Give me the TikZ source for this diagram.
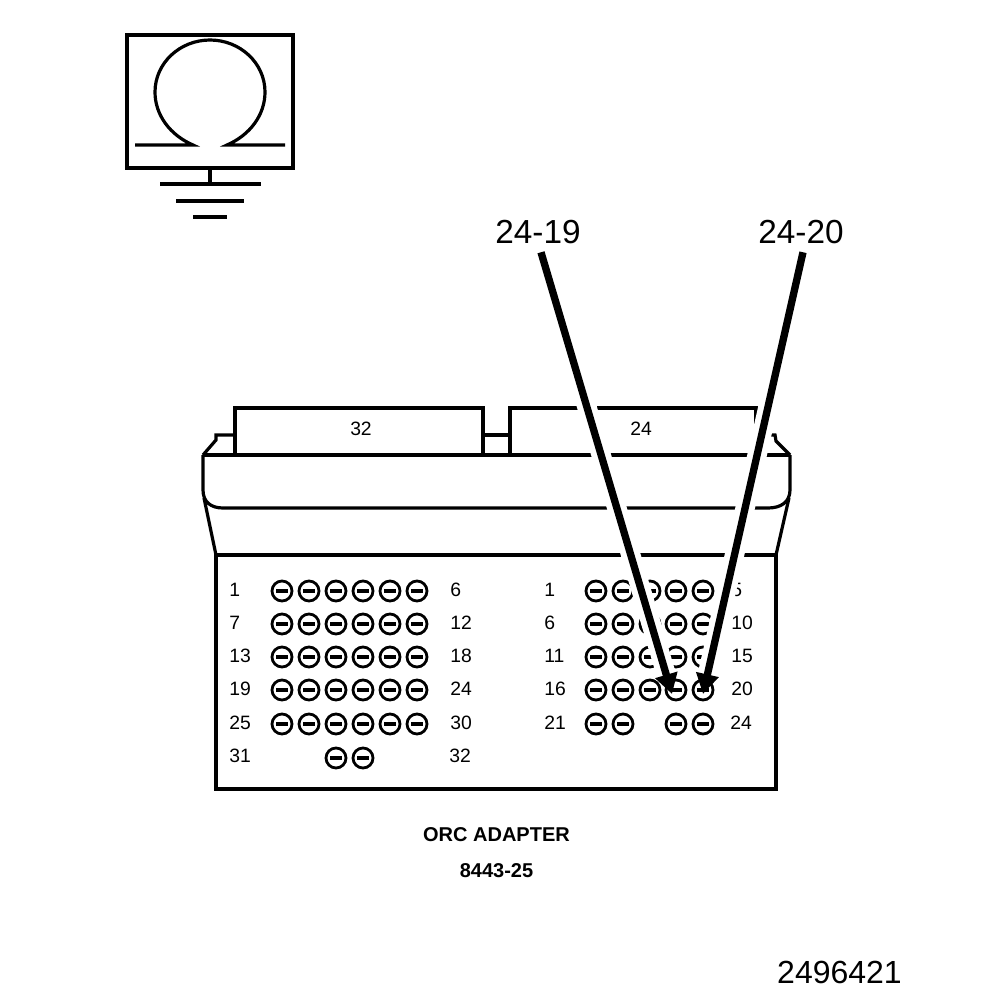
\documentclass[tikz,border=0pt]{standalone}
\usepackage{fontspec}
\setmainfont{Liberation Sans}
\usetikzlibrary{arrows.meta}
\tikzset{
  outline/.style={line width=2.4pt},
  socket/.style={circle,draw,line width=2.1pt,minimum size=15pt,inner sep=0pt,
    path picture={\draw[line width=2.5pt] ([xshift=-4.4pt]path picture bounding box.center) -- ([xshift=4.4pt]path picture bounding box.center);}},
  pinlabel/.style={font=\fontsize{14.5}{16}\selectfont,anchor=west,inner sep=0pt},
  boldlabel/.style={font=\bfseries\fontsize{15}{17}\selectfont,inner sep=0pt},
  biglabel/.style={font=\fontsize{25}{28}\selectfont,inner sep=0pt,minimum height=30pt},
  halo/.style={draw=white,line width=14.5pt,shorten >=17pt},
  pointer/.style={line width=5.5pt,-{Triangle[length=15pt,width=16.5pt]}}
}
\begin{document}
\begin{tikzpicture}[x=0.75pt,y=-0.75pt]
\useasboundingbox (0,0) rectangle (1008,1000);
\fill[white] (0,0) rectangle (1008,1000);
% meter symbol
\draw[outline] (127,35) rectangle (293,168);
\draw[outline] (135,145) -- (193,145) .. controls (170,135) and (155,115) .. (155,92) .. controls (155,63) and (180,40) .. (210,40) .. controls (240,40) and (265,63) .. (265,92) .. controls (265,115) and (250,135) .. (227,145) -- (285,145);
\draw[outline] (210,168) -- (210,184);
\draw[outline] (160,184) -- (261,184);
\draw[outline] (176,201) -- (244,201);
\draw[outline] (193,217) -- (227,217);
% adapter body
\draw[outline] (216,555) rectangle (776,789);
\draw[outline] (216,555) -- (204,498);
\draw[outline] (776,555) -- (789,498);
\draw[outline] (203,455) -- (790,455);
\draw[outline] (203,455) -- (203,490) .. controls (203,502) and (211,508) .. (223,508) -- (768,508) .. controls (781,508) and (790,502) .. (790,490) -- (790,455);
\draw[outline] (203,455) -- (216,440) -- (216,435) -- (235,435);
\draw[outline] (483,435) -- (510,435);
\draw[outline] (756,435) -- (775,435) -- (776,441) -- (790,455);
\draw[outline] (235,455) -- (235,408) -- (483,408) -- (483,455);
\draw[outline] (510,455) -- (510,408) -- (756,408) -- (756,455);
\node[pinlabel,anchor=center] (tab32) at (361,429) {32};
\node[pinlabel,anchor=center] (tab24) at (641,429) {24};
% left block
\foreach \row/\yy/\first/\last in {0/591/1/6,1/624/7/12,2/657/13/18,3/690/19/24,4/724/25/30}{
  \foreach \xx [count=\col] in {282,309,336,363,390,417}
    \node[socket] (sockL\row-\col) at (\xx,\yy) {};
  \node[pinlabel] (pinL\first) at (229,\yy-1) {\first};
  \node[pinlabel] (pinL\last) at (450,\yy-1) {\last};
}
\node[socket] (sockL5-3) at (336,758) {};
\node[socket] (sockL5-4) at (363,758) {};
\node[pinlabel] (pinL31) at (229,756) {31};
\node[pinlabel] (pinL32) at (449,756) {32};
% right block
\foreach \row/\yy/\first/\last in {0/591/1/5,1/624/6/10,2/657/11/15,3/690/16/20}{
  \foreach \xx [count=\col] in {596,623,650,676,703}
    \node[socket] (sockR\row-\col) at (\xx,\yy) {};
  \node[pinlabel] (pinR\first) at (544,\yy-1) {\first};
  \node[pinlabel] (pinR\last) at (731,\yy-1) {\last};
}
\foreach \xx [count=\col] in {596,623,676,703}
  \node[socket] (sockR4-\col) at (\xx,724) {};
\node[pinlabel] (pinR21) at (544,723) {21};
\node[pinlabel] (pinR24) at (730,723) {24};
% pointers
\node[biglabel] (lbl19) at (538,232) {24-19};
\node[biglabel] (lbl20) at (801,232) {24-20};
\coordinate (tip19) at (672,694);
\coordinate (tip20) at (703,694);
\draw[halo] ([xshift=2.25pt]lbl19.south) -- (tip19);
\draw[halo] ([xshift=1.5pt]lbl20.south) -- (tip20);
\draw[pointer] ([xshift=2.25pt]lbl19.south) -- (tip19);
\draw[pointer] ([xshift=1.5pt]lbl20.south) -- (tip20);
% captions
\node[boldlabel] (title) at (496.5,835) {ORC ADAPTER};
\node[boldlabel] (partno) at (496.5,871) {8443-25};
\node[biglabel,font=\fontsize{24}{26}\selectfont] (figno) at (839.5,972) {2496421};
\end{tikzpicture}
\end{document}
